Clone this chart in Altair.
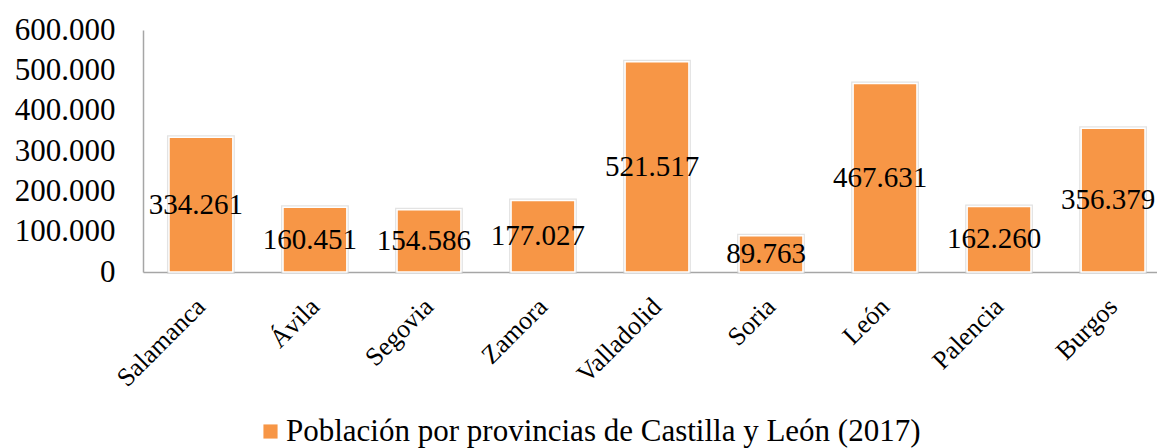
import altair as alt
import pandas as pd

provincias = ["Salamanca", "Ávila", "Segovia", "Zamora", "Valladolid", "Soria", "León", "Palencia", "Burgos"]
poblacion = [334261, 160451, 154586, 177027, 521517, 89763, 467631, 162260, 356379]
serie = "Población por provincias de Castilla y León (2017)"

df = pd.DataFrame({"provincia": provincias, "poblacion": poblacion, "serie": [serie] * len(provincias)})

FONT = "Liberation Serif"
ORANGE = "#F79646"

xscale = alt.Scale(paddingInner=0.44, paddingOuter=0.228, range=[0, 1028])

x = alt.X("provincia:N", sort=provincias, title=None, scale=xscale,
          axis=alt.Axis(labelAngle=-45, labelFont=FONT, labelFontSize=26, labelColor="black",
                        labelPadding=21, labelOffset=-9, ticks=False, domainColor="#A6A6A6", domainWidth=1.5))

y = alt.Y("poblacion:Q", title=None,
          scale=alt.Scale(domain=[0, 600000], nice=False),
          axis=alt.Axis(values=[0, 100000, 200000, 300000, 400000, 500000, 600000], format=",d",
                        labelFont=FONT, labelFontSize=31, labelColor="black", labelPadding=28,
                        ticks=False, grid=False, domainColor="#A6A6A6", domainWidth=1.5))

base = alt.Chart(df)

shadow = base.mark_bar(color="#FFFFFF", stroke="#D0D0D0", strokeWidth=4, strokeOpacity=0.6).encode(x=x, y=y)

bars = base.mark_bar(stroke="white", strokeWidth=1.5).encode(
    x=x, y=y,
    color=alt.Color("serie:N", scale=alt.Scale(range=[ORANGE]), title=None,
                    legend=alt.Legend(orient="none", legendX=112, legendY=386, symbolType="square",
                                      symbolSize=200, symbolStrokeWidth=0, labelFont=FONT,
                                      labelFontSize=31, labelColor="black", labelLimit=1000,
                                      symbolOffset=0, labelOffset=0))
)

labels = base.transform_calculate(mid="datum.poblacion / 2").mark_text(
    font=FONT, fontSize=29, color="black", baseline="middle", align="center", dx=-5
).encode(x=alt.X("provincia:N", sort=provincias, scale=xscale), y=alt.Y("mid:Q"),
         text=alt.Text("poblacion:Q", format=",d"))

chart = alt.layer(shadow, bars, labels).properties(
    width=1014, height=242,
    autosize=alt.AutoSizeParams(type="none"),
    padding={"left": 135, "top": 22, "right": 0, "bottom": 176}
).configure_view(stroke=None)

chart.save("out.html", embed_options={"renderer": "svg", "actions": False,
                                      "formatLocale": {"decimal": ",", "thousands": ".", "grouping": [3], "currency": ["", " €"]}})
